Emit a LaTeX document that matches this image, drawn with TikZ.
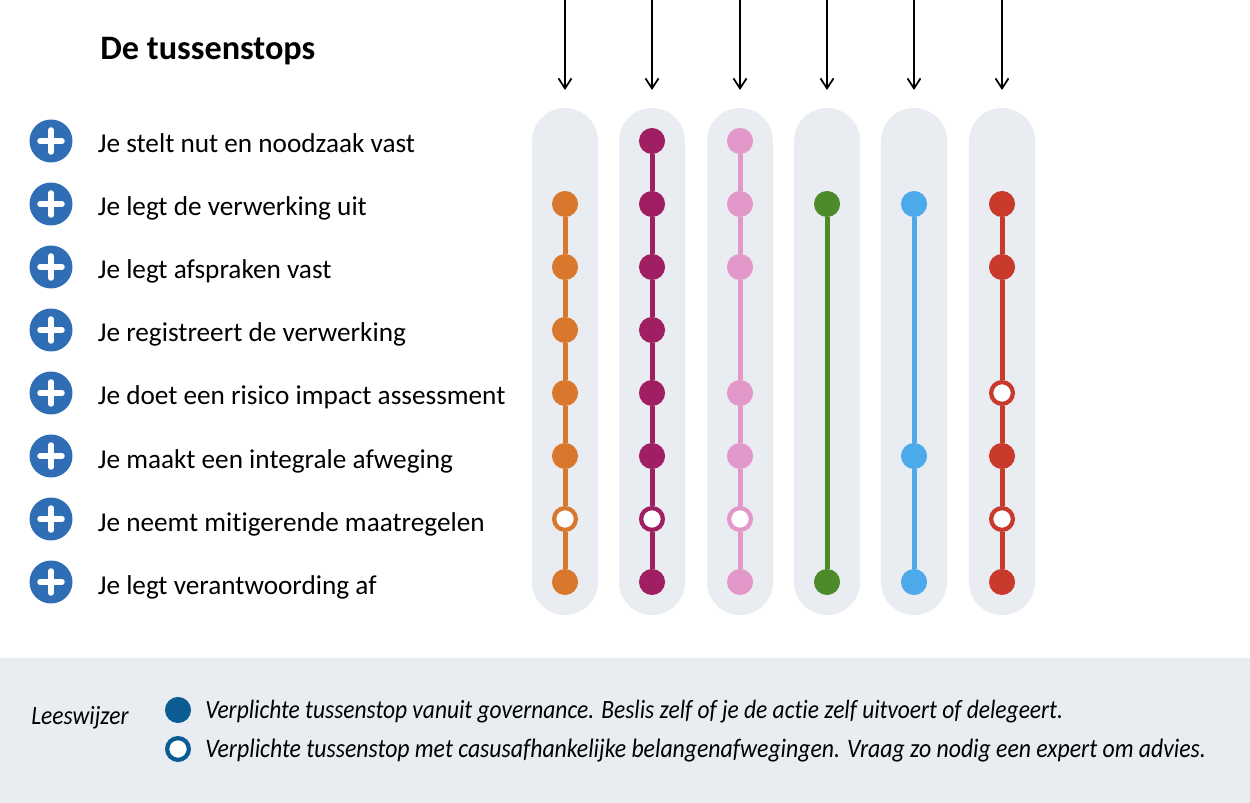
\documentclass[tikz,border=0pt]{standalone}
\usepackage{fontspec}
\setmainfont[Ligatures=NoCommon]{Carlito}
\newfontfamily\legendfont[Ligatures=NoCommon,FakeStretch=.89]{Carlito}
\usetikzlibrary{arrows.meta}
\definecolor{panelgrey}{HTML}{E9ECF1}
\definecolor{plusblue}{HTML}{2F6DB5}
\definecolor{legendblue}{HTML}{0B5C92}
\definecolor{stoporange}{HTML}{D9782C}
\definecolor{stoppurple}{HTML}{A01F62}
\definecolor{stoppink}{HTML}{E298C9}
\definecolor{stopgreen}{HTML}{4C8A2A}
\definecolor{stopblue}{HTML}{4CAAEA}
\definecolor{stopred}{HTML}{C9392C}
\tikzset{
	stopfull/.style={circle,inner sep=0,minimum size=.42cm,line width=.1cm,draw=#1,fill=#1},
	stopopen/.style={circle,inner sep=0,minimum size=.435cm,line width=.085cm,draw=#1,fill=white},
	plusnode/.style={circle,inner sep=0,minimum size=.86cm,fill=plusblue},
	plusarm/.style={white,line width=.11cm,line cap=round},
	pill/.style={fill=panelgrey,rounded corners=.66cm},
	rowtext/.style={anchor=base west,inner sep=0,font=\fontsize{15.5}{18}\selectfont},
	legendtext/.style={anchor=base west,inner sep=0,font=\legendfont\itshape\fontsize{15}{18}\selectfont},
}
\begin{document}
\begin{tikzpicture}[x=.02cm,y=-.02cm,>={Straight Barb[length=.2cm,width=.26cm]}]
	\useasboundingbox (0,0) rectangle (1250,803);
	\def\rowy(#1){141+63*(#1-1)}
	\node[anchor=base west,inner sep=0,font=\bfseries\fontsize{19.5}{22}\selectfont] (title) at (100,60) {De tussenstops};
	%rijen links
	\foreach \r/\txt in {1/Je stelt nut en noodzaak vast,2/Je legt de verwerking uit,3/Je legt afspraken vast,4/Je registreert de verwerking,5/Je doet een risico impact assessment,6/Je maakt een integrale afweging,7/Je neemt mitigerende maatregelen,8/Je legt verantwoording af}{
		\node[plusnode] (plus\r) at (51,{\rowy(\r)}) {};
		\draw[plusarm] (40,{\rowy(\r)})--(62,{\rowy(\r)});
		\draw[plusarm] (51,{\rowy(\r)-11})--(51,{\rowy(\r)+11});
		\node[rowtext] (row\r) at (97.5,{\rowy(\r)+12}) {\txt};
	}
	%kolommen
	\foreach \c/\x/\col/\stops in {
		a/565/stoporange/{2/stopfull,3/stopfull,4/stopfull,5/stopfull,6/stopfull,7/stopopen,8/stopfull},
		b/652/stoppurple/{1/stopfull,2/stopfull,3/stopfull,4/stopfull,5/stopfull,6/stopfull,7/stopopen,8/stopfull},
		c/740/stoppink/{1/stopfull,2/stopfull,3/stopfull,5/stopfull,6/stopfull,7/stopopen,8/stopfull},
		d/827/stopgreen/{2/stopfull,8/stopfull},
		e/914/stopblue/{2/stopfull,6/stopfull,8/stopfull},
		f/1002/stopred/{2/stopfull,3/stopfull,5/stopopen,6/stopfull,7/stopopen,8/stopfull}}{
		\fill[pill] (\x-33,108) rectangle (\x+33,615);
		\coordinate (top\c) at (\x,0);
		\coordinate (tip\c) at (\x,90);
		\draw[->,line width=.035cm] (top\c)--(tip\c);
		\foreach \r/\k [remember=\r as \p (initially 0)] in \stops{
			\node[\k=\col] (\c\r) at (\x,{\rowy(\r)}) {};
			\ifnum\p>0 \draw[\col,line width=.1cm] (\c\p)--(\c\r);\fi
		}
	}
	%leeswijzer
	\fill[panelgrey] (0,658) rectangle (1250,803);
	\node[legendtext] (leeswijzer) at (31,724) {Leeswijzer};
	\node[stopfull=legendblue] (legendfull) at (178,710) {};
	\node[stopopen=legendblue] (legendopen) at (178,749) {};
	\node[legendtext] (legendone) at (205,718) {Verplichte tussenstop vanuit governance. Beslis zelf of je de actie zelf uitvoert of delegeert.};
	\node[legendtext,font=\legendfont\itshape\fontsize{15.18}{18}\selectfont] (legendtwo) at (205,757) {Verplichte tussenstop met casusafhankelijke belangenafwegingen. Vraag zo nodig een expert om advies.};
\end{tikzpicture}
\end{document}
